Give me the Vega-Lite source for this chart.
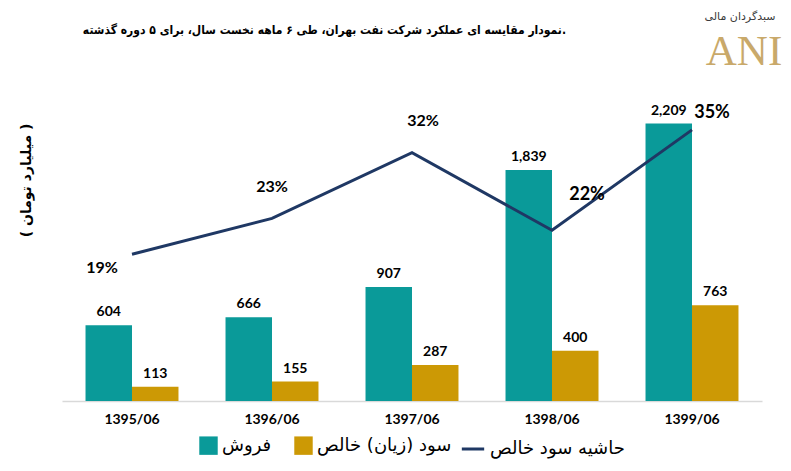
{
  "$schema": "https://vega.github.io/schema/vega-lite/v6.json",
  "width": 700,
  "height": 314,
  "autosize": "none",
  "padding": {"left": 62, "top": 87, "right": 29, "bottom": 70},
  "background": "white",
  "datasets": {
    "bars": [
      {"period": "1395/06", "series": "فروش", "value": 604},
      {"period": "1395/06", "series": "سود (زیان) خالص", "value": 113},
      {"period": "1396/06", "series": "فروش", "value": 666},
      {"period": "1396/06", "series": "سود (زیان) خالص", "value": 155},
      {"period": "1397/06", "series": "فروش", "value": 907},
      {"period": "1397/06", "series": "سود (زیان) خالص", "value": 287},
      {"period": "1398/06", "series": "فروش", "value": 1839},
      {"period": "1398/06", "series": "سود (زیان) خالص", "value": 400},
      {"period": "1399/06", "series": "فروش", "value": 2209},
      {"period": "1399/06", "series": "سود (زیان) خالص", "value": 763}
    ],
    "margin": [
      {"period": "1395/06", "margin": 0.187},
      {"period": "1396/06", "margin": 0.2327},
      {"period": "1397/06", "margin": 0.3164},
      {"period": "1398/06", "margin": 0.2175},
      {"period": "1399/06", "margin": 0.3454}
    ],
    "header": [
      {
        "title": "نمودار مقایسه ای عملکرد شرکت نفت بهران، طی ۶ ماهه نخست سال، برای ۵ دوره گذشته.",
        "brand": "ANI",
        "tagline": "سبدگردان مالی"
      }
    ]
  },
  "encoding": {
    "x": {
      "field": "period",
      "type": "nominal",
      "sort": null,
      "scale": {"paddingInner": 0.336, "paddingOuter": 0.168},
      "axis": {
        "title": null,
        "labelAngle": 0,
        "labelFont": "Lato",
        "labelFontSize": 14,
        "labelFontWeight": "bold",
        "labelColor": "black",
        "labelPadding": 11,
        "ticks": false,
        "domainColor": "#D9D9D9",
        "domainWidth": 1.5
      }
    }
  },
  "layer": [
    {
      "data": {"name": "bars"},
      "encoding": {
        "xOffset": {"field": "series", "type": "nominal", "sort": ["فروش", "سود (زیان) خالص"], "scale": {"paddingInner": 0, "paddingOuter": 0}},
        "y": {
          "field": "value",
          "type": "quantitative",
          "scale": {"domain": [0, 2500]},
          "axis": {
            "title": "( میلیارد تومان )",
            "titleFont": "DejaVu Sans",
            "titleFontSize": 14,
            "titleFontWeight": "bold",
            "titleColor": "black",
            "titleX": -36,
            "titleY": 93,
            "titleAlign": "center",
            "titleBaseline": "middle",
            "labels": false,
            "ticks": false,
            "domain": false,
            "grid": false
          }
        }
      },
      "layer": [
        {
          "mark": {"type": "bar"},
          "encoding": {
            "color": {
              "field": "series",
              "type": "nominal",
              "sort": ["فروش", "سود (زیان) خالص"],
              "scale": {"domain": ["فروش", "سود (زیان) خالص"], "range": ["#0A9A99", "#CC9905"]},
              "legend": {
                "title": null,
                "orient": "bottom",
                "direction": "horizontal",
                "symbolType": "square",
                "symbolSize": 340,
                "symbolStrokeWidth": 0,
                "labelFont": "DejaVu Sans",
                "labelFontSize": 18,
                "labelColor": "black",
                "columnPadding": 22,
                "offset": 10
              }
            }
          }
        },
        {
          "mark": {"type": "text", "baseline": "bottom", "dy": -6, "font": "Lato", "fontSize": 14, "fontWeight": "bold", "color": "black"},
          "encoding": {
            "text": {"field": "value", "type": "quantitative", "format": ","}
          }
        }
      ]
    },
    {
      "data": {"name": "margin"},
      "encoding": {
        "y": {"field": "margin", "type": "quantitative", "scale": {"domain": [0, 0.4]}, "axis": null}
      },
      "layer": [
        {
          "mark": {"type": "line", "strokeWidth": 3},
          "encoding": {
            "stroke": {
              "datum": "حاشیه سود خالص",
              "scale": {"range": ["#1F3864"]},
              "legend": {
                "title": null,
                "orient": "bottom",
                "symbolType": "stroke",
                "symbolStrokeWidth": 3,
                "symbolSize": 500,
                "labelFont": "DejaVu Sans",
                "labelFontSize": 18,
                "labelColor": "black",
                "offset": 10
              }
            }
          }
        },
        {
          "transform": [{"filter": "datum.period == '1395/06'"}],
          "mark": {"type": "text", "dx": -30, "dy": 14, "font": "Lato", "fontSize": 16, "fontWeight": "bold", "color": "black"},
          "encoding": {"text": {"field": "margin", "type": "quantitative", "format": ".0%"}}
        },
        {
          "transform": [{"filter": "datum.period == '1396/06'"}],
          "mark": {"type": "text", "dx": 0, "dy": -31, "font": "Lato", "fontSize": 16, "fontWeight": "bold", "color": "black"},
          "encoding": {"text": {"field": "margin", "type": "quantitative", "format": ".0%"}}
        },
        {
          "transform": [{"filter": "datum.period == '1397/06'"}],
          "mark": {"type": "text", "dx": 11, "dy": -32, "font": "Lato", "fontSize": 16, "fontWeight": "bold", "color": "black"},
          "encoding": {"text": {"field": "margin", "type": "quantitative", "format": ".0%"}}
        },
        {
          "transform": [{"filter": "datum.period == '1398/06'"}],
          "mark": {"type": "text", "dx": 35, "dy": -35, "font": "Lato", "fontSize": 18, "fontWeight": "bold", "color": "black"},
          "encoding": {"text": {"field": "margin", "type": "quantitative", "format": ".0%"}}
        },
        {
          "transform": [{"filter": "datum.period == '1399/06'"}],
          "mark": {"type": "text", "dx": 20, "dy": -17, "font": "Lato", "fontSize": 18, "fontWeight": "bold", "color": "black"},
          "encoding": {"text": {"field": "margin", "type": "quantitative", "format": ".0%"}}
        }
      ]
    },
    {
      "data": {"name": "header"},
      "layer": [
        {
          "mark": {"type": "text", "dx": 154, "align": "right", "baseline": "middle", "font": "DejaVu Sans Condensed, DejaVu Sans", "fontSize": 12, "fontWeight": "bold", "color": "black"},
          "encoding": {
            "x": {"datum": "1397/06"},
            "y": {"datum": 2954, "type": "quantitative", "scale": {"domain": [0, 2500]}, "axis": null},
            "text": {"field": "title"}
          }
        },
        {
          "mark": {"type": "text", "dx": 52, "baseline": "alphabetic", "font": "Liberation Serif", "fontSize": 43, "color": "#C9A96A"},
          "encoding": {
            "x": {"datum": "1399/06"},
            "y": {"datum": 2675, "type": "quantitative", "scale": {"domain": [0, 2500]}, "axis": null},
            "text": {"field": "brand"}
          }
        },
        {
          "mark": {"type": "text", "dx": 48, "baseline": "middle", "font": "DejaVu Sans", "fontSize": 11, "color": "#3A3A3A"},
          "encoding": {
            "x": {"datum": "1399/06"},
            "y": {"datum": 3057, "type": "quantitative", "scale": {"domain": [0, 2500]}, "axis": null},
            "text": {"field": "tagline"}
          }
        }
      ]
    }
  ],
  "resolve": {"scale": {"y": "independent"}},
  "config": {
    "view": {"stroke": null},
    "legend": {"layout": {"bottom": {"anchor": "middle", "direction": "horizontal"}}}
  }
}
